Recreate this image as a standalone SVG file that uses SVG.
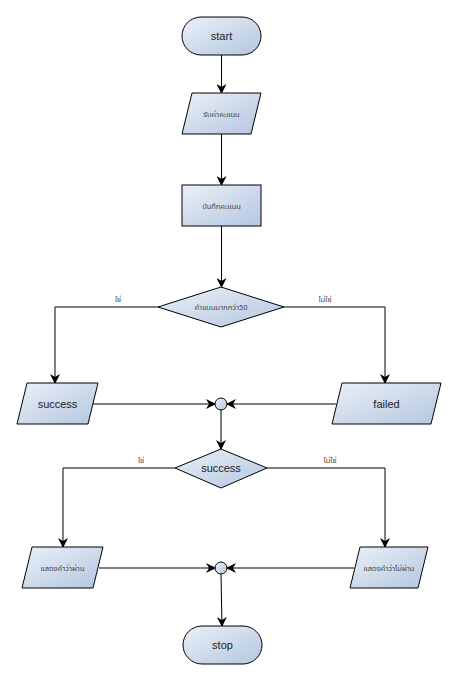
<svg xmlns="http://www.w3.org/2000/svg" width="457" height="680" viewBox="0 0 457 680">
<defs>
<linearGradient id="g" x1="0" y1="0" x2="1" y2="1">
<stop offset="0" stop-color="#eaf0f8"/>
<stop offset="1" stop-color="#b4c6e0"/>
</linearGradient>
<marker id="a" markerWidth="10" markerHeight="10" refX="9" refY="5" orient="auto" markerUnits="userSpaceOnUse">
<path d="M0,0 L10,5 L0,10 L3,5 z" fill="#000"/>
</marker>
<style>
.s{fill:url(#g);stroke:#000;stroke-width:1}
.c{fill:none;stroke:#000;stroke-width:1}
.t{font-family:"Liberation Sans",Arial,sans-serif;font-size:11px;fill:#222;text-anchor:middle;dominant-baseline:central}
.th{font-family:"Noto Sans","Noto Sans Thai","DejaVu Sans",sans-serif;font-size:7.5px;fill:#444;text-anchor:middle;dominant-baseline:central}
.l{font-family:"Noto Sans","Noto Sans Thai","DejaVu Sans",sans-serif;font-size:7.5px;fill:#444;text-anchor:middle;dominant-baseline:central}
</style>
</defs>
<rect width="457" height="680" fill="#fff"/>
<g id="connectors">
<path class="c" d="M221.5,55 V93" marker-end="url(#a)"/>
<path class="c" d="M221.5,134 V185" marker-end="url(#a)"/>
<path class="c" d="M221.5,226 V287" marker-end="url(#a)"/>
<path class="c" d="M158,307 H55 V383" marker-end="url(#a)"/>
<path class="c" d="M284,307 H385 V383" marker-end="url(#a)"/>
<path class="c" d="M93,404 H215" marker-end="url(#a)"/>
<path class="c" d="M336,404 H227" marker-end="url(#a)"/>
<path class="c" d="M221,410 V449" marker-end="url(#a)"/>
<path class="c" d="M175,468 H63 V547" marker-end="url(#a)"/>
<path class="c" d="M267,468 H385 V547" marker-end="url(#a)"/>
<path class="c" d="M99,568 H215" marker-end="url(#a)"/>
<path class="c" d="M354,568 H227" marker-end="url(#a)"/>
<path class="c" d="M221,574 L222,626" marker-end="url(#a)"/>
<text class="l" x="118" y="299">ใช่</text>
<text class="l" x="325" y="299">ไม่ใช่</text>
<text class="l" x="141" y="460">ใช่</text>
<text class="l" x="330" y="460">ไม่ใช่</text>
</g>
<g id="start">
<rect class="s" x="182" y="17" width="79" height="38" rx="19" ry="19"/>
<text class="t" x="221.5" y="36">start</text>
</g>
<g id="input">
<polygon class="s" points="192,93 261,93 251,134 182,134"/>
<text class="th" x="221.5" y="113.5">รับค่าคะแนน</text>
</g>
<g id="save">
<rect class="s" x="182" y="185" width="79" height="41"/>
<text class="th" x="221.5" y="205.5">บันทึกคะแนน</text>
</g>
<g id="decision1">
<polygon class="s" points="221,287 284,307 221,327 158,307"/>
<text class="th" x="221" y="307">คำแนนมากกว่า50</text>
</g>
<g id="success1">
<polygon class="s" points="27,383 98,383 88,424 17,424"/>
<text class="t" x="57.5" y="404">success</text>
</g>
<g id="failed">
<polygon class="s" points="342,383 441,383 431,424 332,424"/>
<text class="t" x="386.5" y="404">failed</text>
</g>
<g id="join1">
<circle class="s" cx="221" cy="404" r="6"/>
</g>
<g id="decision2">
<polygon class="s" points="221,449 267,468 221,488 175,468"/>
<text class="t" x="221" y="468">success</text>
</g>
<g id="pass">
<polygon class="s" points="32,547 103,547 93,588 22,588"/>
<text class="th" x="62.5" y="567.5">แสดงคำว่าผ่าน</text>
</g>
<g id="fail">
<polygon class="s" points="360,547 428,547 418,588 350,588"/>
<text class="th" x="389" y="567.5">แสดงคำว่าไม่ผ่าน</text>
</g>
<g id="join2">
<circle class="s" cx="221" cy="568" r="6"/>
</g>
<g id="stop">
<rect class="s" x="183" y="626" width="79" height="38" rx="19" ry="19"/>
<text class="t" x="222.5" y="645">stop</text>
</g>
</svg>
